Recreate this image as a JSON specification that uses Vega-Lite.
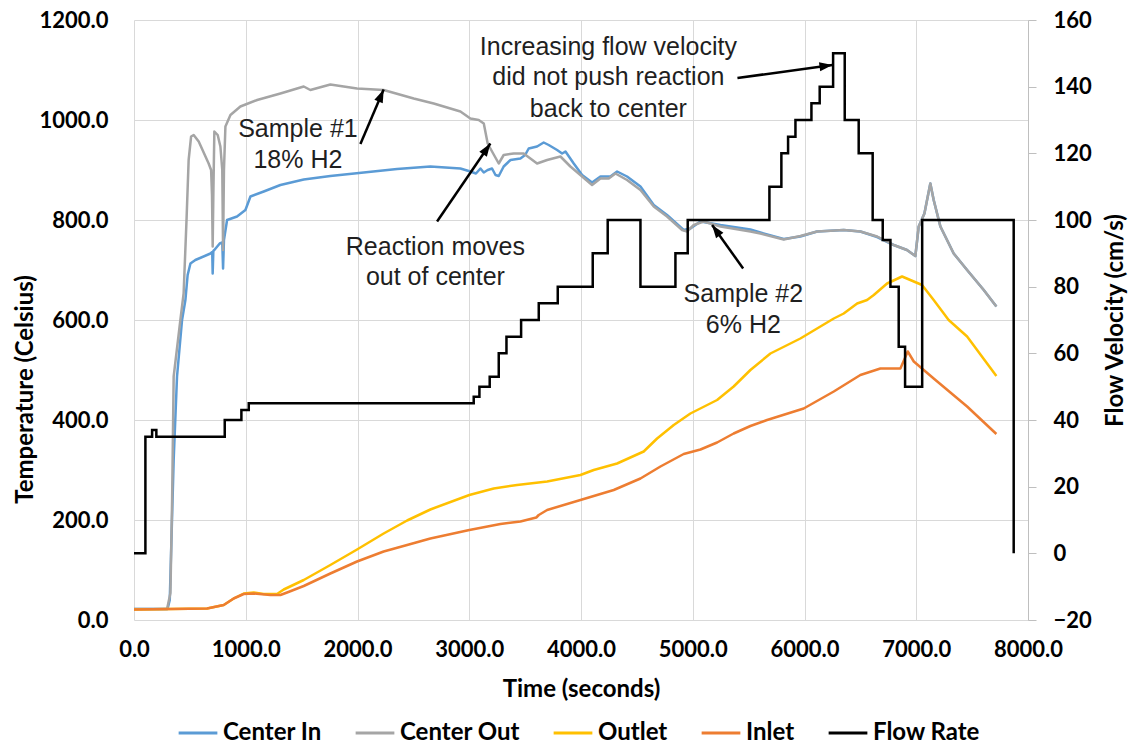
{
  "$schema": "https://vega.github.io/schema/vega-lite/v6.json",
  "width": 894,
  "height": 600,
  "autosize": {"type": "none"},
  "padding": {"left": 134, "top": 20, "right": 103, "bottom": 125},
  "background": "white",
  "config": {"view": {"stroke": null}, "font": "Lato"},
  "datasets": {
    "temps": [
      {"series": "Center In", "t": 0, "T": 22}, {"series": "Center In", "t": 300, "T": 22}, {"series": "Center In", "t": 320, "T": 40}, {"series": "Center In", "t": 355, "T": 320}, {"series": "Center In", "t": 385, "T": 487}, {"series": "Center In", "t": 430, "T": 600}, {"series": "Center In", "t": 460, "T": 640}, {"series": "Center In", "t": 480, "T": 690}, {"series": "Center In", "t": 505, "T": 713}, {"series": "Center In", "t": 549, "T": 720}, {"series": "Center In", "t": 684, "T": 733}, {"series": "Center In", "t": 700, "T": 736}, {"series": "Center In", "t": 704, "T": 693}, {"series": "Center In", "t": 710, "T": 738}, {"series": "Center In", "t": 719, "T": 740}, {"series": "Center In", "t": 767, "T": 753}, {"series": "Center In", "t": 790, "T": 755}, {"series": "Center In", "t": 797, "T": 703}, {"series": "Center In", "t": 805, "T": 760}, {"series": "Center In", "t": 833, "T": 800}, {"series": "Center In", "t": 922, "T": 807}, {"series": "Center In", "t": 997, "T": 820}, {"series": "Center In", "t": 1042, "T": 847}, {"series": "Center In", "t": 1161, "T": 857}, {"series": "Center In", "t": 1310, "T": 870}, {"series": "Center In", "t": 1519, "T": 881}, {"series": "Center In", "t": 1757, "T": 888}, {"series": "Center In", "t": 2056, "T": 895}, {"series": "Center In", "t": 2354, "T": 902}, {"series": "Center In", "t": 2652, "T": 907}, {"series": "Center In", "t": 2921, "T": 903}, {"series": "Center In", "t": 3010, "T": 897}, {"series": "Center In", "t": 3060, "T": 893}, {"series": "Center In", "t": 3100, "T": 903}, {"series": "Center In", "t": 3130, "T": 895}, {"series": "Center In", "t": 3165, "T": 900}, {"series": "Center In", "t": 3204, "T": 903}, {"series": "Center In", "t": 3235, "T": 890}, {"series": "Center In", "t": 3264, "T": 888}, {"series": "Center In", "t": 3308, "T": 907}, {"series": "Center In", "t": 3369, "T": 920}, {"series": "Center In", "t": 3458, "T": 923}, {"series": "Center In", "t": 3500, "T": 930}, {"series": "Center In", "t": 3532, "T": 943}, {"series": "Center In", "t": 3607, "T": 947}, {"series": "Center In", "t": 3666, "T": 955}, {"series": "Center In", "t": 3711, "T": 950}, {"series": "Center In", "t": 3786, "T": 940}, {"series": "Center In", "t": 3831, "T": 933}, {"series": "Center In", "t": 3861, "T": 937}, {"series": "Center In", "t": 3935, "T": 913}, {"series": "Center In", "t": 4010, "T": 890}, {"series": "Center In", "t": 4099, "T": 875}, {"series": "Center In", "t": 4174, "T": 887}, {"series": "Center In", "t": 4263, "T": 887}, {"series": "Center In", "t": 4323, "T": 897}, {"series": "Center In", "t": 4412, "T": 887}, {"series": "Center In", "t": 4532, "T": 867}, {"series": "Center In", "t": 4651, "T": 830}, {"series": "Center In", "t": 4770, "T": 810}, {"series": "Center In", "t": 4919, "T": 780}, {"series": "Center In", "t": 4979, "T": 783}, {"series": "Center In", "t": 5069, "T": 797}, {"series": "Center In", "t": 5248, "T": 790}, {"series": "Center In", "t": 5516, "T": 781}, {"series": "Center In", "t": 5605, "T": 775}, {"series": "Center In", "t": 5814, "T": 762}, {"series": "Center In", "t": 5963, "T": 767}, {"series": "Center In", "t": 6113, "T": 777}, {"series": "Center In", "t": 6351, "T": 780}, {"series": "Center In", "t": 6500, "T": 777}, {"series": "Center In", "t": 6650, "T": 766}, {"series": "Center In", "t": 6798, "T": 750}, {"series": "Center In", "t": 6917, "T": 740}, {"series": "Center In", "t": 6992, "T": 728}, {"series": "Center In", "t": 7022, "T": 787}, {"series": "Center In", "t": 7073, "T": 813}, {"series": "Center In", "t": 7126, "T": 873}, {"series": "Center In", "t": 7156, "T": 840}, {"series": "Center In", "t": 7216, "T": 787}, {"series": "Center In", "t": 7335, "T": 733}, {"series": "Center In", "t": 7455, "T": 700}, {"series": "Center In", "t": 7604, "T": 660}, {"series": "Center In", "t": 7717, "T": 627},

      {"series": "Center Out", "t": 0, "T": 22}, {"series": "Center Out", "t": 296, "T": 22}, {"series": "Center Out", "t": 326, "T": 54}, {"series": "Center Out", "t": 341, "T": 240}, {"series": "Center Out", "t": 355, "T": 487}, {"series": "Center Out", "t": 415, "T": 600}, {"series": "Center Out", "t": 444, "T": 653}, {"series": "Center Out", "t": 470, "T": 800}, {"series": "Center Out", "t": 489, "T": 920}, {"series": "Center Out", "t": 511, "T": 967}, {"series": "Center Out", "t": 534, "T": 970}, {"series": "Center Out", "t": 579, "T": 957}, {"series": "Center Out", "t": 668, "T": 913}, {"series": "Center Out", "t": 690, "T": 900}, {"series": "Center Out", "t": 698, "T": 850}, {"series": "Center Out", "t": 704, "T": 747}, {"series": "Center Out", "t": 710, "T": 850}, {"series": "Center Out", "t": 719, "T": 977}, {"series": "Center Out", "t": 749, "T": 970}, {"series": "Center Out", "t": 773, "T": 947}, {"series": "Center Out", "t": 790, "T": 900}, {"series": "Center Out", "t": 797, "T": 740}, {"series": "Center Out", "t": 805, "T": 900}, {"series": "Center Out", "t": 818, "T": 987}, {"series": "Center Out", "t": 863, "T": 1010}, {"series": "Center Out", "t": 952, "T": 1027}, {"series": "Center Out", "t": 1102, "T": 1040}, {"series": "Center Out", "t": 1310, "T": 1053}, {"series": "Center Out", "t": 1519, "T": 1067}, {"series": "Center Out", "t": 1578, "T": 1060}, {"series": "Center Out", "t": 1757, "T": 1071}, {"series": "Center Out", "t": 1996, "T": 1063}, {"series": "Center Out", "t": 2234, "T": 1060}, {"series": "Center Out", "t": 2503, "T": 1043}, {"series": "Center Out", "t": 2682, "T": 1033}, {"series": "Center Out", "t": 2921, "T": 1017}, {"series": "Center Out", "t": 3010, "T": 1003}, {"series": "Center Out", "t": 3085, "T": 1000}, {"series": "Center Out", "t": 3130, "T": 993}, {"series": "Center Out", "t": 3165, "T": 953}, {"series": "Center Out", "t": 3204, "T": 937}, {"series": "Center Out", "t": 3264, "T": 913}, {"series": "Center Out", "t": 3308, "T": 930}, {"series": "Center Out", "t": 3398, "T": 933}, {"series": "Center Out", "t": 3487, "T": 933}, {"series": "Center Out", "t": 3607, "T": 913}, {"series": "Center Out", "t": 3697, "T": 920}, {"series": "Center Out", "t": 3816, "T": 927}, {"series": "Center Out", "t": 3905, "T": 907}, {"series": "Center Out", "t": 4010, "T": 887}, {"series": "Center Out", "t": 4099, "T": 870}, {"series": "Center Out", "t": 4174, "T": 883}, {"series": "Center Out", "t": 4248, "T": 883}, {"series": "Center Out", "t": 4308, "T": 893}, {"series": "Center Out", "t": 4412, "T": 880}, {"series": "Center Out", "t": 4532, "T": 860}, {"series": "Center Out", "t": 4651, "T": 827}, {"series": "Center Out", "t": 4770, "T": 807}, {"series": "Center Out", "t": 4905, "T": 780}, {"series": "Center Out", "t": 4949, "T": 777}, {"series": "Center Out", "t": 5009, "T": 790}, {"series": "Center Out", "t": 5098, "T": 797}, {"series": "Center Out", "t": 5248, "T": 787}, {"series": "Center Out", "t": 5516, "T": 777}, {"series": "Center Out", "t": 5605, "T": 773}, {"series": "Center Out", "t": 5814, "T": 761}, {"series": "Center Out", "t": 5963, "T": 768}, {"series": "Center Out", "t": 6113, "T": 777}, {"series": "Center Out", "t": 6351, "T": 780}, {"series": "Center Out", "t": 6500, "T": 777}, {"series": "Center Out", "t": 6650, "T": 767}, {"series": "Center Out", "t": 6798, "T": 750}, {"series": "Center Out", "t": 6917, "T": 740}, {"series": "Center Out", "t": 6992, "T": 728}, {"series": "Center Out", "t": 7022, "T": 787}, {"series": "Center Out", "t": 7073, "T": 813}, {"series": "Center Out", "t": 7126, "T": 873}, {"series": "Center Out", "t": 7156, "T": 840}, {"series": "Center Out", "t": 7216, "T": 787}, {"series": "Center Out", "t": 7335, "T": 733}, {"series": "Center Out", "t": 7455, "T": 700}, {"series": "Center Out", "t": 7604, "T": 660}, {"series": "Center Out", "t": 7717, "T": 627},

      {"series": "Outlet", "t": 0, "T": 21}, {"series": "Outlet", "t": 654, "T": 23}, {"series": "Outlet", "t": 803, "T": 30}, {"series": "Outlet", "t": 892, "T": 43}, {"series": "Outlet", "t": 982, "T": 53}, {"series": "Outlet", "t": 1071, "T": 55}, {"series": "Outlet", "t": 1161, "T": 52}, {"series": "Outlet", "t": 1280, "T": 52}, {"series": "Outlet", "t": 1340, "T": 61}, {"series": "Outlet", "t": 1519, "T": 80}, {"series": "Outlet", "t": 1757, "T": 110}, {"series": "Outlet", "t": 1996, "T": 141}, {"series": "Outlet", "t": 2234, "T": 173}, {"series": "Outlet", "t": 2444, "T": 199}, {"series": "Outlet", "t": 2652, "T": 221}, {"series": "Outlet", "t": 3001, "T": 250}, {"series": "Outlet", "t": 3219, "T": 263}, {"series": "Outlet", "t": 3428, "T": 270}, {"series": "Outlet", "t": 3697, "T": 277}, {"series": "Outlet", "t": 3995, "T": 290}, {"series": "Outlet", "t": 4114, "T": 300}, {"series": "Outlet", "t": 4323, "T": 313}, {"series": "Outlet", "t": 4561, "T": 337}, {"series": "Outlet", "t": 4681, "T": 363}, {"series": "Outlet", "t": 4830, "T": 390}, {"series": "Outlet", "t": 4979, "T": 413}, {"series": "Outlet", "t": 5218, "T": 440}, {"series": "Outlet", "t": 5366, "T": 467}, {"series": "Outlet", "t": 5516, "T": 500}, {"series": "Outlet", "t": 5695, "T": 533}, {"series": "Outlet", "t": 5963, "T": 563}, {"series": "Outlet", "t": 6262, "T": 603}, {"series": "Outlet", "t": 6351, "T": 613}, {"series": "Outlet", "t": 6471, "T": 633}, {"series": "Outlet", "t": 6560, "T": 640}, {"series": "Outlet", "t": 6620, "T": 650}, {"series": "Outlet", "t": 6739, "T": 673}, {"series": "Outlet", "t": 6873, "T": 687}, {"series": "Outlet", "t": 6947, "T": 680}, {"series": "Outlet", "t": 7052, "T": 670}, {"series": "Outlet", "t": 7156, "T": 640}, {"series": "Outlet", "t": 7290, "T": 600}, {"series": "Outlet", "t": 7455, "T": 567}, {"series": "Outlet", "t": 7717, "T": 488},

      {"series": "Inlet", "t": 0, "T": 21}, {"series": "Inlet", "t": 654, "T": 23}, {"series": "Inlet", "t": 803, "T": 30}, {"series": "Inlet", "t": 892, "T": 43}, {"series": "Inlet", "t": 982, "T": 52}, {"series": "Inlet", "t": 1071, "T": 53}, {"series": "Inlet", "t": 1221, "T": 50}, {"series": "Inlet", "t": 1310, "T": 50}, {"series": "Inlet", "t": 1370, "T": 55}, {"series": "Inlet", "t": 1519, "T": 68}, {"series": "Inlet", "t": 1757, "T": 93}, {"series": "Inlet", "t": 1996, "T": 117}, {"series": "Inlet", "t": 2234, "T": 137}, {"series": "Inlet", "t": 2444, "T": 150}, {"series": "Inlet", "t": 2652, "T": 163}, {"series": "Inlet", "t": 3001, "T": 180}, {"series": "Inlet", "t": 3279, "T": 192}, {"series": "Inlet", "t": 3458, "T": 197}, {"series": "Inlet", "t": 3600, "T": 205}, {"series": "Inlet", "t": 3622, "T": 210}, {"series": "Inlet", "t": 3697, "T": 220}, {"series": "Inlet", "t": 3995, "T": 240}, {"series": "Inlet", "t": 4293, "T": 260}, {"series": "Inlet", "t": 4532, "T": 283}, {"series": "Inlet", "t": 4711, "T": 307}, {"series": "Inlet", "t": 4919, "T": 332}, {"series": "Inlet", "t": 5069, "T": 341}, {"series": "Inlet", "t": 5218, "T": 355}, {"series": "Inlet", "t": 5366, "T": 373}, {"series": "Inlet", "t": 5516, "T": 388}, {"series": "Inlet", "t": 5665, "T": 400}, {"series": "Inlet", "t": 5993, "T": 423}, {"series": "Inlet", "t": 6262, "T": 457}, {"series": "Inlet", "t": 6500, "T": 490}, {"series": "Inlet", "t": 6679, "T": 503}, {"series": "Inlet", "t": 6858, "T": 503}, {"series": "Inlet", "t": 6924, "T": 537}, {"series": "Inlet", "t": 6978, "T": 517}, {"series": "Inlet", "t": 7156, "T": 483}, {"series": "Inlet", "t": 7455, "T": 427}, {"series": "Inlet", "t": 7717, "T": 372}
    ],
    "flow": [
      {"series": "Flow Rate", "t": 0, "v": 0}, {"series": "Flow Rate", "t": 102, "v": 35}, {"series": "Flow Rate", "t": 162, "v": 37}, {"series": "Flow Rate", "t": 200, "v": 35}, {"series": "Flow Rate", "t": 812, "v": 40}, {"series": "Flow Rate", "t": 961, "v": 43}, {"series": "Flow Rate", "t": 1027, "v": 45}, {"series": "Flow Rate", "t": 3040, "v": 47}, {"series": "Flow Rate", "t": 3091, "v": 50}, {"series": "Flow Rate", "t": 3183, "v": 53}, {"series": "Flow Rate", "t": 3264, "v": 60}, {"series": "Flow Rate", "t": 3333, "v": 65}, {"series": "Flow Rate", "t": 3464, "v": 70}, {"series": "Flow Rate", "t": 3622, "v": 75}, {"series": "Flow Rate", "t": 3792, "v": 80}, {"series": "Flow Rate", "t": 4105, "v": 90}, {"series": "Flow Rate", "t": 4239, "v": 100}, {"series": "Flow Rate", "t": 4532, "v": 80}, {"series": "Flow Rate", "t": 4845, "v": 90}, {"series": "Flow Rate", "t": 4955, "v": 100}, {"series": "Flow Rate", "t": 5686, "v": 110}, {"series": "Flow Rate", "t": 5793, "v": 120}, {"series": "Flow Rate", "t": 5853, "v": 125}, {"series": "Flow Rate", "t": 5919, "v": 130}, {"series": "Flow Rate", "t": 6062, "v": 135}, {"series": "Flow Rate", "t": 6136, "v": 140}, {"series": "Flow Rate", "t": 6256, "v": 150}, {"series": "Flow Rate", "t": 6360, "v": 130}, {"series": "Flow Rate", "t": 6485, "v": 120}, {"series": "Flow Rate", "t": 6610, "v": 100}, {"series": "Flow Rate", "t": 6700, "v": 94}, {"series": "Flow Rate", "t": 6769, "v": 80}, {"series": "Flow Rate", "t": 6843, "v": 62}, {"series": "Flow Rate", "t": 6900, "v": 50}, {"series": "Flow Rate", "t": 7053, "v": 100}, {"series": "Flow Rate", "t": 7872, "v": 0}
    ],
    "notes": [
      {"t": 1467, "T": 983, "label": "Sample #1"}, {"t": 1467, "T": 920, "label": "18% H2"},
      {"t": 2697, "T": 747, "label": "Reaction moves"}, {"t": 2697, "T": 687, "label": "out of center"},
      {"t": 4245, "T": 1147, "label": "Increasing flow velocity"}, {"t": 4245, "T": 1087, "label": "did not push reaction"}, {"t": 4245, "T": 1023, "label": "back to center"},
      {"t": 5453, "T": 653, "label": "Sample #2"}, {"t": 5453, "T": 590, "label": "6% H2"}
    ],
    "arrows": [
      {"id": 1, "t": 2026, "T": 952, "t2": 2234, "T2": 1061},
      {"id": 2, "t": 2712, "T": 797, "t2": 3189, "T2": 953},
      {"id": 3, "t": 5400, "T": 1084, "t2": 6250, "T2": 1110},
      {"id": 4, "t": 5451, "T": 703, "t2": 5173, "T2": 790}
    ]
  },
  "layer": [
    {
      "layer": [
        {
          "data": {"name": "temps"},
          "transform": [{"filter": "datum.series === 'Center In'"}],
          "mark": {"type": "line", "strokeWidth": 2.5, "strokeJoin": "round"},
          "encoding": {
            "x": {"field": "t", "type": "quantitative", "scale": {"domain": [0, 8000], "nice": false, "zero": false},
              "axis": {"title": "Time (seconds)", "values": [0, 1000, 2000, 3000, 4000, 5000, 6000, 7000, 8000], "format": ".1f", "labelFont": "Lato", "labelFontWeight": "bold", "labelFontSize": 22, "labelColor": "black", "labelPadding": 19, "labelFlush": false, "labelOverlap": false, "ticks": false, "tickSize": 0, "domain": false, "grid": true, "gridColor": "#D9D9D9", "gridWidth": 1, "titleFont": "Lato", "titleFontSize": 24, "titleFontWeight": "bold", "titleColor": "black", "titlePadding": 17}},
            "y": {"field": "T", "type": "quantitative", "scale": {"domain": [0, 1200], "nice": false},
              "axis": {"title": "Temperature (Celsius)", "values": [0, 200, 400, 600, 800, 1000, 1200], "format": ".1f", "labelFont": "Lato", "labelFontWeight": "bold", "labelFontSize": 22, "labelColor": "black", "labelPadding": 26, "labelFlush": false, "labelOverlap": false, "ticks": false, "tickSize": 0, "domain": false, "grid": true, "gridColor": "#D9D9D9", "gridWidth": 1, "titleFont": "Lato", "titleFontSize": 24, "titleFontWeight": "bold", "titleColor": "black", "titleX": -109, "titleY": 369, "titleAngle": 270, "titleAlign": "center", "titleBaseline": "middle"}},
            "color": {"field": "series", "type": "nominal", "scale": {"domain": ["Center In", "Center Out", "Outlet", "Inlet", "Flow Rate"], "range": ["#5B9BD5", "#A5A5A5", "#FFC000", "#ED7D31", "#000000"]},
              "legend": {"title": null, "orient": "none", "legendX": 43, "legendY": 692, "direction": "horizontal", "symbolType": "stroke", "symbolSize": 1500, "symbolStrokeWidth": 3, "labelFont": "Lato", "labelFontWeight": "bold", "labelFontSize": 24, "labelColor": "black", "labelOffset": 4, "columnPadding": 27, "labelLimit": 300}}
          }
        },
        {
          "data": {"name": "temps"},
          "transform": [{"filter": "datum.series === 'Center Out'"}],
          "mark": {"type": "line", "strokeWidth": 2.5, "strokeJoin": "round"},
          "encoding": {
            "x": {"field": "t", "type": "quantitative"},
            "y": {"field": "T", "type": "quantitative"},
            "color": {"field": "series", "type": "nominal"}
          }
        },
        {
          "data": {"name": "temps"},
          "transform": [{"filter": "datum.series === 'Outlet'"}],
          "mark": {"type": "line", "strokeWidth": 2.5, "strokeJoin": "round"},
          "encoding": {
            "x": {"field": "t", "type": "quantitative"},
            "y": {"field": "T", "type": "quantitative"},
            "color": {"field": "series", "type": "nominal"}
          }
        },
        {
          "data": {"name": "temps"},
          "transform": [{"filter": "datum.series === 'Inlet'"}],
          "mark": {"type": "line", "strokeWidth": 2.5, "strokeJoin": "round"},
          "encoding": {
            "x": {"field": "t", "type": "quantitative"},
            "y": {"field": "T", "type": "quantitative"},
            "color": {"field": "series", "type": "nominal"}
          }
        },
        {
          "data": {"name": "notes"},
          "mark": {"type": "text", "font": "Liberation Sans", "fontSize": 25, "color": "#1f1f1f", "align": "center", "baseline": "middle"},
          "encoding": {
            "x": {"field": "t", "type": "quantitative"},
            "y": {"field": "T", "type": "quantitative"},
            "text": {"field": "label", "type": "nominal"}
          }
        },
        {
          "data": {"name": "arrows"},
          "mark": {"type": "rule", "strokeWidth": 2.5, "color": "black"},
          "encoding": {
            "x": {"field": "t", "type": "quantitative"},
            "y": {"field": "T", "type": "quantitative"},
            "x2": {"field": "t2"},
            "y2": {"field": "T2"}
          }
        },
        {
          "data": {"name": "arrows"},
          "transform": [{"filter": "datum.id === 1"}],
          "mark": {"type": "point", "shape": "M0,0L0.7,2L-0.7,2Z", "filled": true, "color": "black", "opacity": 1, "size": 169, "angle": 23},
          "encoding": {"x": {"field": "t2", "type": "quantitative"}, "y": {"field": "T2", "type": "quantitative"}}
        },
        {
          "data": {"name": "arrows"},
          "transform": [{"filter": "datum.id === 2"}],
          "mark": {"type": "point", "shape": "M0,0L0.7,2L-0.7,2Z", "filled": true, "color": "black", "opacity": 1, "size": 169, "angle": 34},
          "encoding": {"x": {"field": "t2", "type": "quantitative"}, "y": {"field": "T2", "type": "quantitative"}}
        },
        {
          "data": {"name": "arrows"},
          "transform": [{"filter": "datum.id === 3"}],
          "mark": {"type": "point", "shape": "M0,0L0.7,2L-0.7,2Z", "filled": true, "color": "black", "opacity": 1, "size": 169, "angle": 82},
          "encoding": {"x": {"field": "t2", "type": "quantitative"}, "y": {"field": "T2", "type": "quantitative"}}
        },
        {
          "data": {"name": "arrows"},
          "transform": [{"filter": "datum.id === 4"}],
          "mark": {"type": "point", "shape": "M0,0L0.7,2L-0.7,2Z", "filled": true, "color": "black", "opacity": 1, "size": 169, "angle": -36},
          "encoding": {"x": {"field": "t2", "type": "quantitative"}, "y": {"field": "T2", "type": "quantitative"}}
        }
      ]
    },
    {
      "data": {"name": "flow"},
      "mark": {"type": "line", "interpolate": "step-after", "strokeWidth": 2.5},
      "encoding": {
        "x": {"field": "t", "type": "quantitative"},
        "y": {"field": "v", "type": "quantitative", "scale": {"domain": [-20, 160], "nice": false, "zero": false},
          "axis": {"orient": "right", "title": "Flow Velocity (cm/s)", "values": [-20, 0, 20, 40, 60, 80, 100, 120, 140, 160], "format": "d", "labelFont": "Lato", "labelFontWeight": "bold", "labelFontSize": 22, "labelColor": "black", "labelPadding": 17, "labelFlush": false, "labelOverlap": false, "ticks": true, "tickSize": 8, "tickColor": "#BFBFBF", "domain": true, "domainColor": "#BFBFBF", "grid": false, "titleFont": "Lato", "titleFontSize": 24, "titleFontWeight": "bold", "titleColor": "black", "titleX": 87, "titleY": 300, "titleAngle": 270, "titleAlign": "center", "titleBaseline": "middle"}},
        "color": {"field": "series", "type": "nominal"}
      }
    }
  ],
  "resolve": {"scale": {"y": "independent"}}
}
